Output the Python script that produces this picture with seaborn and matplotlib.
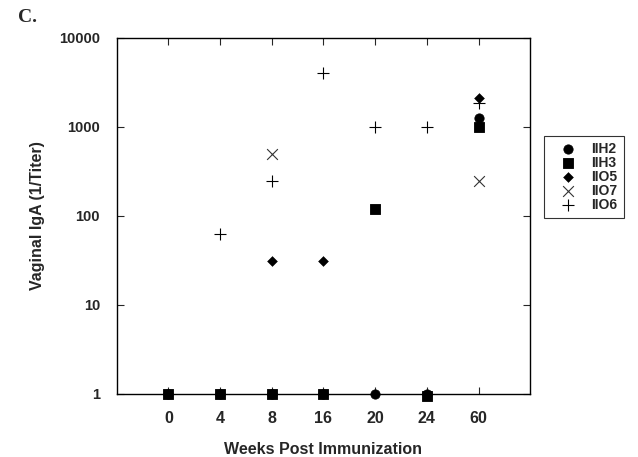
import pandas as pd
import matplotlib.pyplot as plt
import matplotlib.ticker as mticker
import seaborn as sns

# weeks post immunization (categorical x axis)
weeks = ["0", "4", "8", "16", "20", "24", "60"]

# each series: weeks where a point is shown and its titer
h2_weeks = ["0", "4", "8", "16", "20", "24", "60"]
h2_vals = [1, 1, 1, 1, 1, 1, 1250]
h3_weeks = ["0", "4", "8", "16", "20", "24", "60"]
h3_vals = [1, 1, 1, 1, 120, 0.95, 1000]
o5_weeks = ["8", "16", "60"]
o5_vals = [31, 31, 2100]
o7_weeks = ["8", "60"]
o7_vals = [500, 245]
o6_weeks = ["4", "8", "16", "20", "24", "60"]
o6_vals = [62, 250, 4000, 1000, 1000, 1850]

series = [("IIH2", h2_weeks, h2_vals), ("IIH3", h3_weeks, h3_vals),
          ("IIO5", o5_weeks, o5_vals), ("IIO7", o7_weeks, o7_vals),
          ("IIO6", o6_weeks, o6_vals)]
rows = []
for name, wk, vals in series:
    for w, v in zip(wk, vals):
        rows.append({"group": name, "pos": weeks.index(w), "titer": v})
df = pd.DataFrame(rows)

sns.set_style("ticks")
plt.rcParams["font.family"] = ["Liberation Sans", "DejaVu Sans"]

fig = plt.figure(figsize=(6.38, 4.57), dpi=100)
ax = fig.add_axes([0.183, 0.138, 0.648, 0.779])

styles = {
    "IIH2": dict(marker="o", s=45, color="black", edgecolor="black"),
    "IIH3": dict(marker="s", s=60, color="black", edgecolor="black"),
    "IIO5": dict(marker="D", s=25, color="black", edgecolor="black"),
    "IIO7": dict(marker="x", s=60, color="#333333", linewidth=0.8),
    "IIO6": dict(marker="+", s=70, color="black", linewidth=0.8),
}
for name in ["IIO6", "IIO7", "IIO5", "IIH3", "IIH2"]:
    sub = df[df["group"] == name]
    sns.scatterplot(data=sub, x="pos", y="titer", ax=ax, label=name,
                    zorder=3, clip_on=False, **styles[name])

ax.set_yscale("log")
ax.set_ylim(1, 10000)
ax.set_xlim(-1, 7)
ax.yaxis.set_major_locator(mticker.FixedLocator([1, 10, 100, 1000, 10000]))
ax.yaxis.set_major_formatter(mticker.FuncFormatter(lambda v, p: f"{int(v)}"))
ax.yaxis.set_minor_locator(mticker.NullLocator())
ax.set_xticks(range(len(weeks)))
ax.set_xticklabels(weeks)

for sp in ax.spines.values():
    sp.set_visible(True)
    sp.set_color("black")
    sp.set_linewidth(1.0)
ax.tick_params(direction="in", top=True, right=True, length=5, width=0.8,
               pad=12)
ax.tick_params(axis="x", labelsize=11.5)
ax.tick_params(axis="y", labelsize=10.5)
for lab in ax.get_xticklabels() + ax.get_yticklabels():
    lab.set_fontweight("bold")

ax.set_xlabel("Weeks Post Immunization", fontsize=11.5, fontweight="bold",
              labelpad=12)
ax.set_ylabel("Vaginal IgA (1/Titer)", fontsize=11.5, fontweight="bold",
              labelpad=10)

handles, labels = ax.get_legend_handles_labels()
order = ["IIH2", "IIH3", "IIO5", "IIO7", "IIO6"]
hl = dict(zip(labels, handles))
leg = ax.legend([hl[k] for k in order], order, loc="center left",
                bbox_to_anchor=(1.026, 0.61), frameon=True, fancybox=False,
                edgecolor="black", handletextpad=0.4, labelspacing=0.0,
                borderpad=0.45, handlelength=2.6, borderaxespad=0.2,
                prop={"weight": "bold", "size": 10})
leg.get_frame().set_linewidth(0.8)

fig.text(0.028, 0.952, "C.", fontsize=14, fontweight="bold",
         family=["Liberation Serif", "DejaVu Serif"])

fig.savefig("out.png", dpi=100)
